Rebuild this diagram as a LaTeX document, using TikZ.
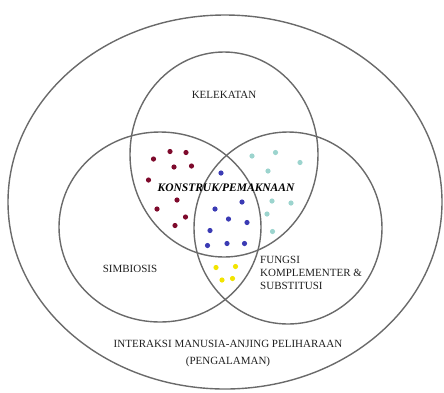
\documentclass[tikz,border=0pt]{standalone}
\usepackage{fontspec}
\setmainfont{Liberation Serif}
\usepackage{tikz}
\definecolor{venngray}{HTML}{6A6A6A}
\definecolor{venred}{HTML}{7E0A2C}
\definecolor{venblue}{HTML}{3B3BB4}
\definecolor{venteal}{HTML}{9CD4CE}
\definecolor{venyellow}{HTML}{F2E400}

\begin{document}
\begin{tikzpicture}[x=1pt,y=-1pt,
  ring/.style={draw=venngray, line width=1.4pt},
  lbl/.style={inner sep=0pt, font=\fontsize{11}{13}\selectfont, text=black!88},
  dotred/.style={fill=venred},
  dotblue/.style={fill=venblue},
  dotteal/.style={fill=venteal},
  dotyellow/.style={fill=venyellow}]
\useasboundingbox (0,0) rectangle (444,392) ;
\draw[ring] (225,202) ellipse (217pt and 187pt) ;
\draw[ring] (224,154.5) ellipse (94pt and 102.5pt) ;
\draw[ring] (160,227) ellipse (101pt and 95pt) ;
\draw[ring] (288,228) ellipse (94pt and 96pt) ;
\foreach \p in {(170,151.5),(186,152.5),(153.5,159),(174,167),(191.5,166),(148.5,180),(177,200),(157,209),(185.5,217),(175,225.5)}
  \fill[dotred] \p circle (2.6pt) ;
\foreach \p in {(221,173),(242,202),(215,209),(228.5,219),(247,222.5),(210,230.5),(207.5,245.5),(227,243.5),(244.5,243.5)}
  \fill[dotblue] \p circle (2.6pt) ;
\foreach \p in {(252,156),(275.5,152.5),(300,162.5),(268,171),(272,201),(291,203),(267,214),(272.5,231.5)}
  \fill[dotteal] \p circle (2.6pt) ;
\foreach \p in {(216,267.5),(235.5,266.5),(222,280),(232.5,278.5)}
  \fill[dotyellow] \p circle (2.6pt) ;
\node[lbl] (kelekatan) at (224,95) {KELEKATAN} ;
\node[lbl] (simbiosis) at (130,269) {SIMBIOSIS} ;
\node[lbl, anchor=west, align=left] (fungsi) at (260,273) {FUNGSI\\KOMPLEMENTER \&\\SUBSTITUSI} ;
\node[lbl, font=\fontsize{11.5}{13}\selectfont\bfseries\itshape, text=black] (konstruk) at (226,187.5) {KONSTRUK/PEMAKNAAN} ;
\node[lbl, align=center, font=\fontsize{11}{17}\selectfont] (interaksi) at (228,353.5) {INTERAKSI MANUSIA-ANJING PELIHARAAN\\(PENGALAMAN)} ;
\end{tikzpicture}
\end{document}
